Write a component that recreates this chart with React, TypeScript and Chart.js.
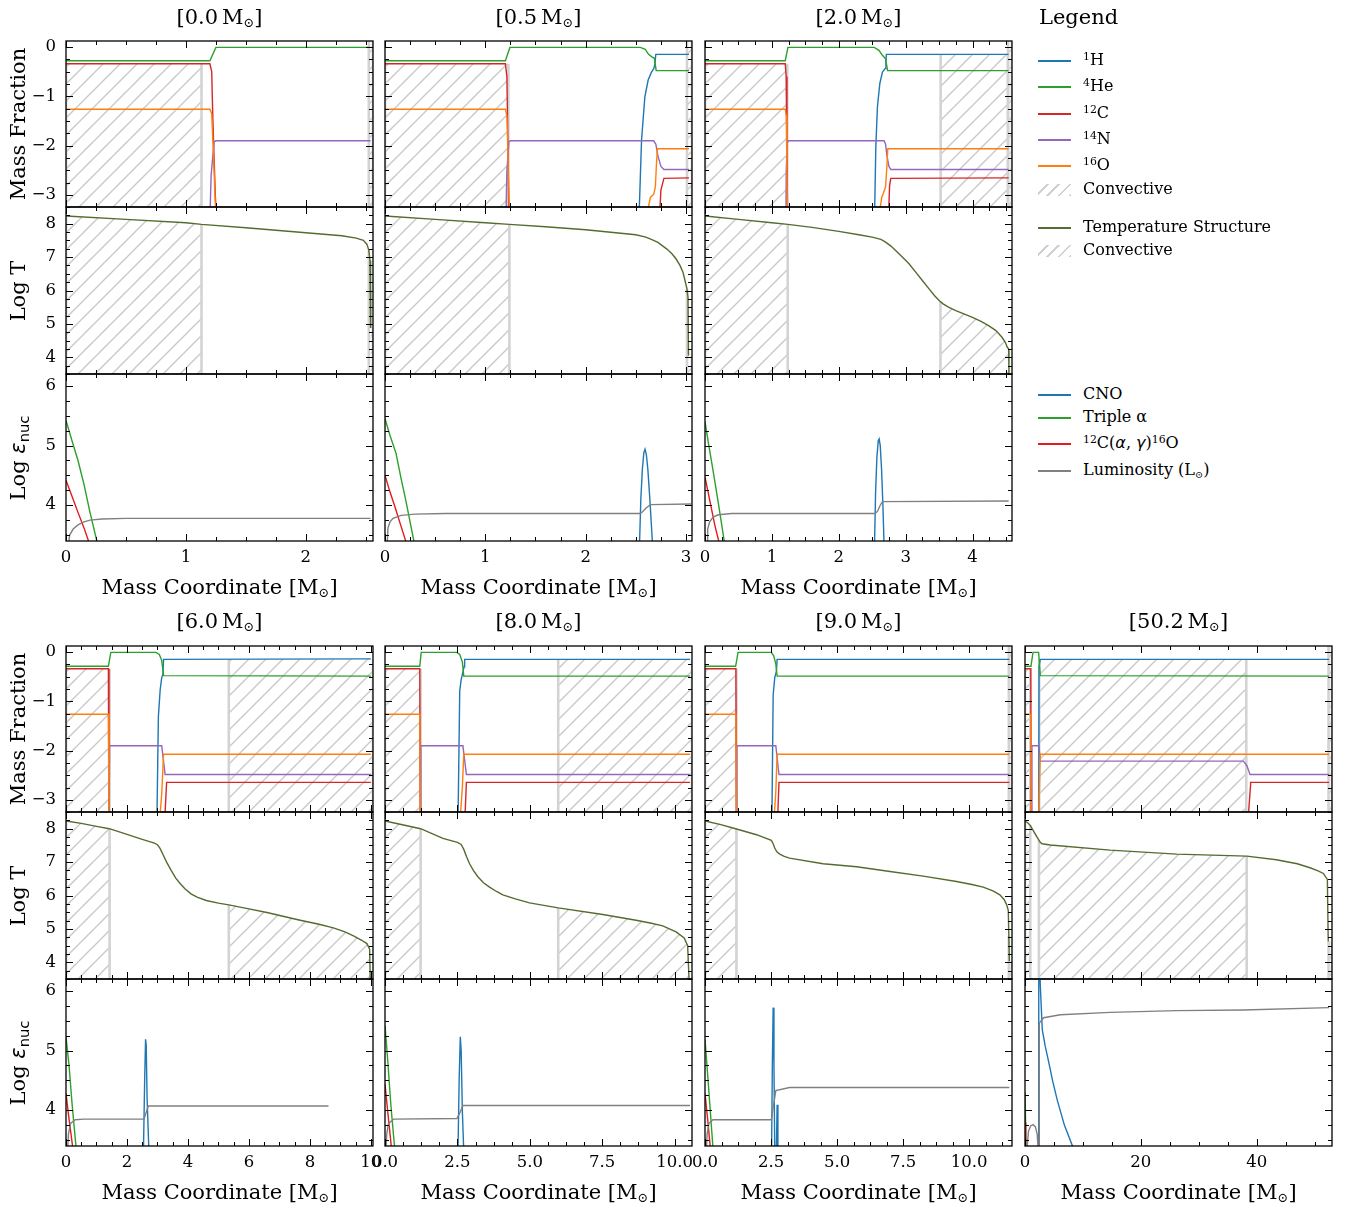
import React, { useEffect, useRef } from "react";
import { Chart, registerables } from "chart.js";

Chart.register(...registerables);

type Pt = [number, number];
type Zone = [number, number, number]; // x0, x1, top (mass-fraction panel)
type TZone = [number, number]; // x0, x1 (temperature panel, filled up to the curve)

// ---------------- axis ranges and ticks ----------------
const MF_MIN = -3.24;
const MF_MAX = 0.12;
const MF_TICKS = [-3, -2, -1, 0];
const T_MIN = 3.5;
const T_MAX = 8.5;
const T_TICKS = [4, 5, 6, 7, 8];
const E_MIN = 3.4;
const E_MAX = 6.2;
const E_TICKS = [4, 5, 6];
const Y_MINOR = 0.25;

const STAR_MASSES = ["0.0", "0.5", "2.0", "6.0", "8.0", "9.0", "50.2"];
const X_MAX = [2.56, 3.06, 4.59, 10.07, 10.6, 11.62, 53.0];
const X_TICKS = [
  [0, 1, 2],
  [0, 1, 2, 3],
  [0, 1, 2, 3, 4],
  [0, 2, 4, 6, 8, 10],
  [0, 2.5, 5, 7.5, 10],
  [0, 2.5, 5, 7.5, 10],
  [0, 20, 40],
];
const X_DEC = [0, 0, 0, 0, 1, 1, 0];

// ---------------- [0.0 Msun] ----------------
const m00_H: Pt[] = [];
const m00_He: Pt[] = [[0, -0.28], [1.2, -0.28], [1.25, -0.01], [2.54, -0.01]];
const m00_C: Pt[] = [[0, -0.34], [1.2, -0.34], [1.215, -0.5], [1.225, -1.5], [1.245, -3.0], [1.255, -3.5]];
const m00_N: Pt[] = [[1.2, -3.5], [1.21, -2.6], [1.235, -1.92], [1.25, -1.9], [2.54, -1.9]];
const m00_O: Pt[] = [[0, -1.26], [1.2, -1.26], [1.215, -1.35], [1.23, -2.2], [1.25, -3.5]];
const m00_mfConv: Zone[] = [[0, 1.13, -0.34], [2.525, 2.56, 0.12]];
const m00_T: Pt[] = [[0, 8.23], [0.5, 8.13], [1.0, 8.03], [1.13, 7.98], [1.5, 7.88], [2.0, 7.73], [2.3, 7.64], [2.42, 7.57], [2.48, 7.5], [2.51, 7.38], [2.525, 7.2], [2.535, 6.9], [2.54, 6.0], [2.54, 4.88]];
const m00_tConv: TZone[] = [[0, 1.13], [2.525, 2.56]];
const m00_CNO: Pt[] = [];
const m00_TA: Pt[] = [[0, 5.42], [0.05, 5.08], [0.1, 4.75], [0.15, 4.35], [0.2, 3.88], [0.257, 3.4], [0.27, 3.3]];
const m00_CAG: Pt[] = [[0, 4.42], [0.05, 4.15], [0.1, 3.88], [0.15, 3.62], [0.2, 3.33]];
const m00_L: Pt[] = [[0.02, 3.3], [0.03, 3.5], [0.06, 3.6], [0.1, 3.67], [0.15, 3.72], [0.2, 3.75], [0.3, 3.77], [0.5, 3.78], [2.54, 3.78]];

// ---------------- [0.5 Msun] ----------------
const m05_H: Pt[] = [[2.531, -3.5], [2.557, -1.89], [2.59, -1.01], [2.623, -0.67], [2.656, -0.51], [2.679, -0.44], [2.69, -0.35], [2.699, -0.15], [3.03, -0.15]];
const m05_He: Pt[] = [[0, -0.28], [1.2, -0.28], [1.245, -0.01], [2.545, -0.01], [2.594, -0.05], [2.627, -0.15], [2.66, -0.2], [2.685, -0.23], [2.703, -0.48], [3.03, -0.48]];
const m05_C: Pt[] = [[0, -0.34], [1.2, -0.34], [1.215, -0.6], [1.225, -2.0], [1.235, -3.5], [2.735, -3.5], [2.75, -2.9], [2.78, -2.66], [3.03, -2.65]];
const m05_N: Pt[] = [[1.205, -3.5], [1.215, -2.5], [1.235, -1.92], [1.25, -1.9], [2.678, -1.9], [2.7, -1.97], [2.72, -2.2], [2.75, -2.42], [2.78, -2.48], [3.03, -2.48]];
const m05_O: Pt[] = [[0, -1.26], [1.2, -1.26], [1.215, -1.4], [1.23, -2.5], [1.24, -3.5], [2.6, -3.5], [2.646, -3.04], [2.679, -2.98], [2.695, -2.83], [2.705, -2.4], [2.715, -2.06], [3.03, -2.06]];
const m05_mfConv: Zone[] = [[0, 1.23, -0.34], [3.01, 3.06, 0.12]];
const m05_T: Pt[] = [[0, 8.23], [0.5, 8.13], [1.0, 8.03], [1.24, 7.98], [1.6, 7.91], [2.0, 7.82], [2.3, 7.73], [2.5, 7.67], [2.6, 7.6], [2.66, 7.52], [2.72, 7.44], [2.76, 7.35], [2.81, 7.24], [2.86, 7.1], [2.9, 6.95], [2.94, 6.75], [2.97, 6.55], [2.99, 6.3], [3.01, 6.05], [3.02, 5.8], [3.025, 4.05]];
const m05_tConv: TZone[] = [[0, 1.24], [3.01, 3.06]];
const m05_CNO: Pt[] = [[2.536, 3.3], [2.55, 4.1], [2.565, 4.6], [2.58, 4.88], [2.592, 4.94], [2.605, 4.85], [2.62, 4.6], [2.64, 4.1], [2.668, 3.3]];
const m05_TA: Pt[] = [[0, 5.45], [0.05, 5.17], [0.11, 4.87], [0.16, 4.45], [0.21, 4.06], [0.29, 3.38], [0.3, 3.3]];
const m05_CAG: Pt[] = [[0, 4.5], [0.05, 4.22], [0.1, 3.97], [0.15, 3.7], [0.21, 3.38], [0.22, 3.3]];
const m05_L: Pt[] = [[0.02, 3.3], [0.03, 3.62], [0.05, 3.72], [0.08, 3.78], [0.16, 3.83], [0.3, 3.85], [0.6, 3.86], [2.536, 3.86], [2.56, 3.88], [2.6, 3.95], [2.645, 4.01], [3.05, 4.02]];

// ---------------- [2.0 Msun] ----------------
const m20_H: Pt[] = [[2.534, -3.5], [2.554, -2.02], [2.578, -1.21], [2.614, -0.74], [2.653, -0.51], [2.693, -0.44], [2.705, -0.3], [2.712, -0.15], [4.54, -0.15]];
const m20_He: Pt[] = [[0, -0.28], [1.2, -0.28], [1.24, -0.01], [2.53, -0.01], [2.6, -0.07], [2.653, -0.17], [2.7, -0.24], [2.73, -0.48], [4.54, -0.48]];
const m20_C: Pt[] = [[0, -0.34], [1.2, -0.34], [1.213, -0.6], [1.225, -2.0], [1.235, -3.5], [2.742, -3.5], [2.76, -2.8], [2.778, -2.66], [4.54, -2.65]];
const m20_N: Pt[] = [[1.21, -3.5], [1.215, -2.5], [1.23, -1.92], [1.24, -1.9], [2.678, -1.9], [2.7, -1.97], [2.72, -2.2], [2.75, -2.42], [2.778, -2.48], [4.54, -2.48]];
const m20_O: Pt[] = [[0, -1.26], [1.2, -1.26], [1.215, -1.4], [1.225, -2.5], [1.235, -3.5], [2.593, -3.5], [2.643, -3.04], [2.67, -2.95], [2.7, -2.83], [2.72, -2.4], [2.733, -2.06], [4.54, -2.06]];
const m20_mfConv: Zone[] = [[0, 1.23, -0.34], [3.523, 4.53, -0.15], [4.53, 4.59, 0.12]];
const m20_T: Pt[] = [[0, 8.23], [0.5, 8.13], [1.0, 8.03], [1.24, 7.98], [1.6, 7.89], [2.0, 7.77], [2.3, 7.67], [2.5, 7.6], [2.63, 7.53], [2.7, 7.45], [2.78, 7.33], [2.85, 7.2], [2.95, 7.0], [3.05, 6.8], [3.15, 6.55], [3.25, 6.3], [3.35, 6.05], [3.43, 5.85], [3.5, 5.7], [3.56, 5.6], [3.64, 5.5], [3.75, 5.4], [3.87, 5.3], [3.99, 5.2], [4.12, 5.08], [4.24, 4.95], [4.35, 4.8], [4.44, 4.6], [4.49, 4.45], [4.52, 4.3], [4.54, 4.25], [4.545, 3.45]];
const m20_tConv: TZone[] = [[0, 1.237], [3.52, 4.59]];
const m20_CNO: Pt[] = [[2.534, 3.3], [2.55, 4.2], [2.57, 4.8], [2.59, 5.08], [2.604, 5.11], [2.62, 5.0], [2.64, 4.6], [2.66, 4.0], [2.678, 3.3]];
const m20_TA: Pt[] = [[0, 5.4], [0.05, 5.05], [0.1, 4.72], [0.15, 4.38], [0.2, 4.03], [0.29, 3.38], [0.3, 3.3]];
const m20_CAG: Pt[] = [[0, 4.47], [0.05, 4.2], [0.1, 3.92], [0.15, 3.65], [0.21, 3.38], [0.22, 3.3]];
const m20_L: Pt[] = [[0.03, 3.3], [0.04, 3.6], [0.07, 3.72], [0.12, 3.8], [0.2, 3.84], [0.4, 3.86], [2.544, 3.86], [2.58, 3.9], [2.62, 4.0], [2.653, 4.06], [4.54, 4.07]];

// ---------------- [6.0 Msun] ----------------
const m60_H: Pt[] = [[2.98, -3.5], [3.03, -1.31], [3.09, -0.76], [3.14, -0.52], [3.18, -0.45], [3.2, -0.15], [10.0, -0.14]];
const m60_He: Pt[] = [[0, -0.29], [1.39, -0.29], [1.47, -0.01], [2.95, -0.01], [3.06, -0.05], [3.14, -0.17], [3.2, -0.48], [10.0, -0.49]];
const m60_C: Pt[] = [[0, -0.34], [1.39, -0.34], [1.41, -3.5], [3.23, -3.5], [3.3, -2.64], [10.0, -2.64]];
const m60_N: Pt[] = [[1.41, -3.5], [1.43, -1.9], [3.14, -1.9], [3.25, -2.48], [10.0, -2.48]];
const m60_O: Pt[] = [[0, -1.26], [1.39, -1.26], [1.41, -3.5], [3.06, -3.5], [3.14, -2.87], [3.2, -2.07], [10.0, -2.07]];
const m60_mfConv: Zone[] = [[0, 1.43, -0.34], [5.34, 10.07, -0.15]];
const m60_T: Pt[] = [[0, 8.23], [0.5, 8.16], [1.0, 8.07], [1.42, 8.0], [2.0, 7.83], [2.5, 7.68], [2.9, 7.57], [3.0, 7.52], [3.08, 7.42], [3.17, 7.25], [3.3, 7.0], [3.45, 6.75], [3.6, 6.52], [3.75, 6.35], [3.9, 6.2], [4.1, 6.05], [4.3, 5.95], [4.6, 5.85], [5.0, 5.77], [5.34, 5.72], [6.0, 5.6], [6.59, 5.49], [7.68, 5.26], [8.3, 5.14], [8.77, 5.03], [9.15, 4.91], [9.43, 4.79], [9.7, 4.66], [9.87, 4.56], [9.96, 4.39], [9.98, 3.45]];
const m60_tConv: TZone[] = [[0, 1.43], [5.34, 10.07]];
const m60_CNO: Pt[] = [[2.54, 3.3], [2.58, 4.5], [2.61, 5.19], [2.63, 5.1], [2.66, 4.2], [2.72, 3.3]];
const m60_TA: Pt[] = [[0, 5.23], [0.1, 4.75], [0.2, 4.1], [0.33, 3.38], [0.34, 3.3]];
const m60_CAG: Pt[] = [[0, 4.28], [0.1, 3.85], [0.22, 3.38], [0.23, 3.3]];
const m60_L: Pt[] = [[0.05, 3.3], [0.08, 3.6], [0.15, 3.78], [0.3, 3.84], [0.6, 3.85], [2.56, 3.85], [2.62, 3.95], [2.7, 4.07], [8.61, 4.07]];

// ---------------- [8.0 Msun] ----------------
const m80_H: Pt[] = [[2.52, -3.5], [2.58, -0.79], [2.63, -0.56], [2.69, -0.41], [2.73, -0.3], [2.75, -0.15], [10.53, -0.15]];
const m80_He: Pt[] = [[0, -0.29], [1.2, -0.29], [1.25, -0.01], [2.48, -0.01], [2.58, -0.05], [2.67, -0.2], [2.72, -0.49], [10.53, -0.49]];
const m80_C: Pt[] = [[0, -0.34], [1.2, -0.34], [1.22, -3.5], [2.75, -3.5], [2.81, -2.64], [10.53, -2.64]];
const m80_N: Pt[] = [[1.22, -3.5], [1.24, -1.9], [2.69, -1.9], [2.81, -2.48], [10.53, -2.48]];
const m80_O: Pt[] = [[0, -1.26], [1.2, -1.26], [1.22, -3.5], [2.58, -3.5], [2.67, -2.75], [2.72, -2.07], [10.53, -2.07]];
const m80_mfConv: Zone[] = [[0, 1.23, -0.34], [5.98, 10.6, -0.15]];
const m80_T: Pt[] = [[0, 8.23], [0.6, 8.12], [1.23, 8.0], [2.0, 7.71], [2.5, 7.59], [2.63, 7.53], [2.72, 7.38], [2.82, 7.15], [2.92, 6.95], [3.05, 6.75], [3.2, 6.57], [3.4, 6.38], [3.61, 6.25], [3.85, 6.12], [4.07, 6.02], [4.5, 5.9], [4.99, 5.78], [5.98, 5.63], [7.52, 5.43], [8.67, 5.26], [9.2, 5.17], [9.59, 5.09], [10.05, 4.91], [10.33, 4.73], [10.45, 4.5], [10.5, 3.45]];
const m80_tConv: TZone[] = [[0, 1.23], [5.98, 10.6]];
const m80_CNO: Pt[] = [[2.52, 3.3], [2.56, 4.5], [2.6, 5.23], [2.63, 5.0], [2.67, 4.0], [2.72, 3.3]];
const m80_TA: Pt[] = [[0, 5.42], [0.1, 4.8], [0.2, 4.1], [0.33, 3.38], [0.34, 3.3]];
const m80_CAG: Pt[] = [[0, 4.44], [0.1, 3.95], [0.22, 3.38], [0.23, 3.3]];
const m80_L: Pt[] = [[0.03, 3.3], [0.06, 3.6], [0.12, 3.78], [0.3, 3.85], [2.48, 3.86], [2.58, 3.95], [2.69, 4.08], [10.53, 4.08]];

// ---------------- [9.0 Msun] ----------------
const m90_H: Pt[] = [[2.53, -3.5], [2.58, -0.87], [2.64, -0.52], [2.7, -0.4], [2.73, -0.15], [11.52, -0.15]];
const m90_He: Pt[] = [[0, -0.29], [1.16, -0.29], [1.25, -0.01], [2.51, -0.01], [2.6, -0.08], [2.68, -0.24], [2.73, -0.49], [11.52, -0.49]];
const m90_C: Pt[] = [[0, -0.34], [1.17, -0.34], [1.19, -3.5], [2.74, -3.5], [2.8, -2.64], [11.52, -2.64]];
const m90_N: Pt[] = [[1.19, -3.5], [1.21, -1.9], [2.68, -1.9], [2.8, -2.48], [11.52, -2.48]];
const m90_O: Pt[] = [[0, -1.26], [1.17, -1.26], [1.19, -3.5], [2.6, -3.5], [2.68, -2.83], [2.73, -2.07], [11.52, -2.07]];
const m90_mfConv: Zone[] = [[0, 1.19, -0.34], [11.5, 11.62, 0.12]];
const m90_T: Pt[] = [[0, 8.23], [0.6, 8.12], [1.16, 8.0], [1.95, 7.82], [2.51, 7.65], [2.58, 7.55], [2.64, 7.42], [2.72, 7.31], [2.83, 7.24], [3.0, 7.17], [3.2, 7.12], [4.47, 6.95], [5.74, 6.86], [7.0, 6.72], [8.26, 6.58], [9.52, 6.42], [10.1, 6.33], [10.53, 6.25], [10.9, 6.14], [11.16, 6.02], [11.32, 5.88], [11.42, 5.72], [11.48, 5.55], [11.52, 4.03]];
const m90_tConv: TZone[] = [[0, 1.19], [11.5, 11.62]];
const m90_CNO: Pt[] = [[2.52, 3.3], [2.55, 4.8], [2.58, 5.72], [2.61, 4.8], [2.64, 3.3], [2.7, 3.3], [2.73, 4.09], [2.76, 3.3], [2.8, 3.3]];
const m90_TA: Pt[] = [[0, 5.19], [0.1, 4.6], [0.3, 3.38], [0.31, 3.3]];
const m90_CAG: Pt[] = [[0, 4.28], [0.1, 3.85], [0.2, 3.38], [0.21, 3.3]];
const m90_L: Pt[] = [[0.05, 3.3], [0.08, 3.6], [0.15, 3.78], [0.3, 3.84], [2.51, 3.84], [2.6, 4.1], [2.68, 4.33], [3.2, 4.38], [11.52, 4.38]];

// ---------------- [50.2 Msun] ----------------
const m502_H: Pt[] = [[2.38, -3.5], [2.42, -0.3], [2.64, -0.15], [52.5, -0.15]];
const m502_He: Pt[] = [[0, -0.29], [1.03, -0.29], [1.38, -0.01], [2.35, -0.01], [2.64, -0.48], [52.5, -0.49]];
const m502_C: Pt[] = [[0, -0.34], [1.0, -0.34], [1.05, -3.5], [38.45, -3.5], [38.97, -2.64], [52.5, -2.64]];
const m502_N: Pt[] = [[1.15, -3.5], [1.2, -1.9], [2.4, -1.9], [2.64, -2.21], [37.7, -2.21], [38.3, -2.3], [38.85, -2.48], [52.5, -2.48]];
const m502_O: Pt[] = [[0, -1.26], [1.0, -1.26], [1.05, -3.5], [2.35, -3.5], [2.64, -2.07], [52.5, -2.07]];
const m502_mfConv: Zone[] = [[0, 0.91, -0.34], [2.45, 38.2, -0.15], [52.4, 53.0, 0.12]];
const m502_T: Pt[] = [[0, 8.23], [0.5, 8.17], [0.91, 8.1], [1.5, 7.92], [2.0, 7.77], [2.35, 7.67], [2.6, 7.6], [2.93, 7.55], [4.36, 7.51], [14.7, 7.36], [26.2, 7.24], [38.3, 7.18], [43.4, 7.07], [47.0, 6.95], [49.2, 6.83], [50.6, 6.74], [51.5, 6.66], [52.2, 6.48], [52.35, 4.62]];
const m502_tConv: TZone[] = [[0, 0.91], [2.4, 38.27], [52.4, 53.0]];
const m502_CNO: Pt[] = [[2.3, 3.3], [2.35, 5.5], [2.4, 6.6], [2.5, 6.6], [2.64, 6.1], [2.98, 5.35], [3.5, 5.07], [4.02, 4.84], [4.8, 4.48], [5.57, 4.17], [6.8, 3.75], [8.16, 3.41], [8.25, 3.3]];
const m502_TA: Pt[] = [[0, 4.3], [0.2, 3.3]];
const m502_CAG: Pt[] = [[0, 3.8], [0.12, 3.3]];
const m502_L: Pt[] = [[0.3, 3.3], [0.6, 3.65], [1.0, 3.74], [1.4, 3.76], [1.8, 3.72], [2.1, 3.6], [2.3, 3.3], [2.45, 3.3], [2.47, 5.46], [3.22, 5.55], [6.1, 5.6], [14.7, 5.64], [26.2, 5.67], [37.7, 5.68], [52.5, 5.72]];

// ---------------- styling ----------------
const COLORS = {
  H: "#1f77b4",
  He: "#2ca02c",
  C: "#d62728",
  N: "#9467bd",
  O: "#ff7f0e",
  T: "#556b2f",
  CNO: "#1f77b4",
  TA: "#2ca02c",
  CAG: "#e41a1c",
  L: "#808080",
};
const HATCH_EDGE = "#d3d3d3";
const HATCH_LINE = "#c9c9c9";
const SERIF = '"DejaVu Serif", serif';
const SANS = '"DejaVu Sans", sans-serif';
const TICK_SIZE = 16.5;
const LABEL_SIZE = 21;
const TITLE_SIZE = 21;
const LEGEND_SIZE = 16;

interface Star {
  mass: string; xMax: number; xTicks: number[]; xDec: number;
  H: Pt[]; He: Pt[]; C: Pt[]; N: Pt[]; O: Pt[]; mfConv: Zone[];
  T: Pt[]; tConv: TZone[];
  CNO: Pt[]; TA: Pt[]; CAG: Pt[]; L: Pt[];
}

const STARS: Star[] = [
  { mass: STAR_MASSES[0], xMax: X_MAX[0], xTicks: X_TICKS[0], xDec: X_DEC[0], H: m00_H, He: m00_He, C: m00_C, N: m00_N, O: m00_O, mfConv: m00_mfConv, T: m00_T, tConv: m00_tConv, CNO: m00_CNO, TA: m00_TA, CAG: m00_CAG, L: m00_L },
  { mass: STAR_MASSES[1], xMax: X_MAX[1], xTicks: X_TICKS[1], xDec: X_DEC[1], H: m05_H, He: m05_He, C: m05_C, N: m05_N, O: m05_O, mfConv: m05_mfConv, T: m05_T, tConv: m05_tConv, CNO: m05_CNO, TA: m05_TA, CAG: m05_CAG, L: m05_L },
  { mass: STAR_MASSES[2], xMax: X_MAX[2], xTicks: X_TICKS[2], xDec: X_DEC[2], H: m20_H, He: m20_He, C: m20_C, N: m20_N, O: m20_O, mfConv: m20_mfConv, T: m20_T, tConv: m20_tConv, CNO: m20_CNO, TA: m20_TA, CAG: m20_CAG, L: m20_L },
  { mass: STAR_MASSES[3], xMax: X_MAX[3], xTicks: X_TICKS[3], xDec: X_DEC[3], H: m60_H, He: m60_He, C: m60_C, N: m60_N, O: m60_O, mfConv: m60_mfConv, T: m60_T, tConv: m60_tConv, CNO: m60_CNO, TA: m60_TA, CAG: m60_CAG, L: m60_L },
  { mass: STAR_MASSES[4], xMax: X_MAX[4], xTicks: X_TICKS[4], xDec: X_DEC[4], H: m80_H, He: m80_He, C: m80_C, N: m80_N, O: m80_O, mfConv: m80_mfConv, T: m80_T, tConv: m80_tConv, CNO: m80_CNO, TA: m80_TA, CAG: m80_CAG, L: m80_L },
  { mass: STAR_MASSES[5], xMax: X_MAX[5], xTicks: X_TICKS[5], xDec: X_DEC[5], H: m90_H, He: m90_He, C: m90_C, N: m90_N, O: m90_O, mfConv: m90_mfConv, T: m90_T, tConv: m90_tConv, CNO: m90_CNO, TA: m90_TA, CAG: m90_CAG, L: m90_L },
  { mass: STAR_MASSES[6], xMax: X_MAX[6], xTicks: X_TICKS[6], xDec: X_DEC[6], H: m502_H, He: m502_He, C: m502_C, N: m502_N, O: m502_O, mfConv: m502_mfConv, T: m502_T, tConv: m502_tConv, CNO: m502_CNO, TA: m502_TA, CAG: m502_CAG, L: m502_L },
];

// ---------------- layout ----------------
const COL_LEFT = [66, 385, 705, 1025];
const PLOT_W = 307;
const ROW_EDGES = [
  [41, 207, 374, 541],
  [646, 812, 979, 1146],
];
const ML = 50;
const MR = 26;
const MT = 26;
const MB = 42;

function starPos(si: number) {
  return si < 3 ? { row: 0, col: si } : { row: 1, col: si - 3 };
}

let patternCache: CanvasPattern | null = null;
function getPattern(): CanvasPattern {
  if (patternCache) return patternCache;
  const s = 17;
  const c = document.createElement("canvas");
  c.width = s;
  c.height = s;
  const g = c.getContext("2d")!;
  g.strokeStyle = HATCH_LINE;
  g.lineWidth = 1.4;
  g.beginPath();
  for (let k = -1; k <= 1; k++) {
    g.moveTo(k * s - 1, s + 1);
    g.lineTo(k * s + s + 1, -1);
  }
  g.stroke();
  patternCache = g.createPattern(c, "repeat")!;
  return patternCache;
}

function fmt(v: number, d: number) {
  return v.toFixed(d).replace("-", "\u2212");
}

function interp(pts: Pt[], x: number): number {
  if (x <= pts[0][0]) return pts[0][1];
  const last = pts[pts.length - 1];
  if (x >= last[0]) return last[1];
  for (let i = 0; i < pts.length - 1; i++) {
    const a = pts[i], b = pts[i + 1];
    if (a[0] <= x && x <= b[0] && b[0] > a[0]) return a[1] + ((b[1] - a[1]) * (x - a[0])) / (b[0] - a[0]);
  }
  return last[1];
}

function underCurve(pts: Pt[], x0: number, x1: number, base: number): Pt[] {
  const out: Pt[] = [[x0, base], [x0, interp(pts, x0)]];
  for (const p of pts) if (p[0] > x0 && p[0] < x1) out.push(p);
  out.push([x1, interp(pts, x1)], [x1, base]);
  return out;
}

function lineDs(pts: Pt[], color: string, order: number) {
  return {
    data: pts.map(([x, y]) => ({ x, y })),
    borderColor: color,
    borderWidth: 1.4,
    pointRadius: 0,
    tension: 0,
    fill: false,
    order,
  };
}

function hatchDs(pts: Pt[], pattern: CanvasPattern) {
  return {
    data: pts.map(([x, y]) => ({ x, y })),
    borderColor: HATCH_EDGE,
    borderWidth: 2.6,
    backgroundColor: pattern,
    fill: "start",
    pointRadius: 0,
    tension: 0,
    order: 20,
    segment: {
      borderColor: (c: any) => (c.p0.parsed.x === c.p1.parsed.x ? HATCH_EDGE : "rgba(0,0,0,0)"),
    },
  };
}

function minorValues(min: number, max: number, step: number, majors: number[]) {
  const out: number[] = [];
  const k0 = Math.ceil(min / step - 1e-9);
  const k1 = Math.floor(max / step + 1e-9);
  for (let k = k0; k <= k1; k++) {
    const v = k * step;
    if (!majors.some((m) => Math.abs(m - v) < step * 1e-3)) out.push(v);
  }
  return out;
}

const frameTicks = {
  id: "frameTicks",
  afterDatasetsDraw(chart: any, _args: any, opts: any) {
    const { ctx, chartArea: a, scales } = chart;
    const xs = scales.x, ys = scales.y;
    ctx.save();
    ctx.strokeStyle = "#000";
    ctx.lineWidth = 1;
    ctx.beginPath();
    const tx = (v: number, len: number) => {
      const p = Math.round(xs.getPixelForValue(v)) + 0.5;
      ctx.moveTo(p, a.bottom);
      ctx.lineTo(p, a.bottom - len);
      ctx.moveTo(p, a.top);
      ctx.lineTo(p, a.top + len);
    };
    const ty = (v: number, len: number) => {
      const p = Math.round(ys.getPixelForValue(v)) + 0.5;
      ctx.moveTo(a.left, p);
      ctx.lineTo(a.left + len, p);
      ctx.moveTo(a.right, p);
      ctx.lineTo(a.right - len, p);
    };
    opts.xMajor.forEach((v: number) => tx(v, 7));
    minorValues(xs.min, xs.max, opts.xMinor, opts.xMajor).forEach((v) => tx(v, 4));
    opts.yMajor.forEach((v: number) => ty(v, 7));
    minorValues(ys.min, ys.max, opts.yMinor, opts.yMajor).forEach((v) => ty(v, 4));
    ctx.stroke();
    ctx.lineWidth = 1.3;
    ctx.strokeRect(a.left, a.top, a.right - a.left, a.bottom - a.top);
    ctx.restore();
  },
};

function makeConfig(s: Star, kind: number, yLab: boolean, xLab: boolean): any {
  const pat = getPattern();
  const ds: any[] = [];
  let yMin = MF_MIN, yMax = MF_MAX, yTicks = MF_TICKS;
  if (kind === 0) {
    for (const [x0, x1, top] of s.mfConv) ds.push(hatchDs([[x0, MF_MIN], [x0, top], [x1, top], [x1, MF_MIN]], pat));
    ds.push(lineDs(s.H, COLORS.H, 5), lineDs(s.He, COLORS.He, 4), lineDs(s.C, COLORS.C, 3), lineDs(s.N, COLORS.N, 2), lineDs(s.O, COLORS.O, 1));
  } else if (kind === 1) {
    yMin = T_MIN; yMax = T_MAX; yTicks = T_TICKS;
    for (const [x0, x1] of s.tConv) ds.push(hatchDs(underCurve(s.T, x0, x1, T_MIN), pat));
    ds.push(lineDs(s.T, COLORS.T, 1));
  } else {
    yMin = E_MIN; yMax = E_MAX; yTicks = E_TICKS;
    ds.push(lineDs(s.CNO, COLORS.CNO, 4), lineDs(s.TA, COLORS.TA, 3), lineDs(s.CAG, COLORS.CAG, 2), lineDs(s.L, COLORS.L, 1));
  }
  const tickFont = { family: SERIF, size: TICK_SIZE };
  const xMinor = (s.xTicks[1] - s.xTicks[0]) / 4;
  return {
    type: "line",
    data: { datasets: ds },
    options: {
      animation: false,
      responsive: false,
      devicePixelRatio: 1,
      events: [],
      layout: { padding: { top: MT, right: MR, left: 0, bottom: 0 } },
      plugins: {
        legend: { display: false },
        tooltip: { enabled: false },
        frameTicks: { xMajor: s.xTicks, xMinor, yMajor: yTicks, yMinor: Y_MINOR },
      },
      scales: {
        x: {
          type: "linear",
          min: 0,
          max: s.xMax,
          grid: { display: false, drawTicks: false },
          border: { display: false },
          afterBuildTicks: (sc: any) => {
            sc.ticks = s.xTicks.map((v) => ({ value: v }));
          },
          afterFit: (sc: any) => {
            sc.height = MB;
            sc.paddingLeft = 0;
            sc.paddingRight = 0;
          },
          ticks: {
            display: xLab,
            color: "#000",
            font: tickFont,
            padding: 7,
            maxRotation: 0,
            minRotation: 0,
            autoSkip: false,
            callback: (v: number) => fmt(v, s.xDec),
          },
        },
        y: {
          type: "linear",
          min: yMin,
          max: yMax,
          grid: { display: false, drawTicks: false },
          border: { display: false },
          afterBuildTicks: (sc: any) => {
            sc.ticks = yTicks.map((v) => ({ value: v }));
          },
          afterFit: (sc: any) => {
            sc.width = ML;
            sc.paddingTop = 0;
            sc.paddingBottom = 0;
          },
          ticks: {
            display: yLab,
            color: "#000",
            font: tickFont,
            padding: 10,
            autoSkip: false,
            callback: (v: number) => fmt(v, 0),
          },
        },
      },
    },
    plugins: [frameTicks],
  };
}

function Subplot({ si, kind }: { si: number; kind: number }) {
  const ref = useRef<HTMLCanvasElement>(null);
  const { row, col } = starPos(si);
  const left = COL_LEFT[col];
  const top = ROW_EDGES[row][kind];
  const h = ROW_EDGES[row][kind + 1] - top;
  const cw = PLOT_W + ML + MR;
  const ch = h + MT + MB;
  useEffect(() => {
    const chart = new Chart(ref.current as HTMLCanvasElement, makeConfig(STARS[si], kind, col === 0, kind === 2));
    return () => chart.destroy();
  }, [si, kind]);
  return (
    <canvas
      ref={ref}
      width={cw}
      height={ch}
      style={{ position: "absolute", left: left - ML, top: top - MT, width: cw, height: ch }}
    />
  );
}

function Txt(props: { x: number; y: number; size: number; rotate?: boolean; left?: boolean; family?: string; children: any }) {
  const { x, y, size, rotate, left, family, children } = props;
  return (
    <div
      style={{
        position: "absolute",
        left: x,
        top: y,
        transform: `translate(${left ? "0" : "-50%"}, -50%)${rotate ? " rotate(-90deg)" : ""}`,
        fontSize: size,
        lineHeight: 1,
        whiteSpace: "nowrap",
        fontFamily: family || SERIF,
        color: "#000",
      }}
    >
      {children}
    </div>
  );
}

const SUB: any = { fontSize: "0.62em", verticalAlign: "-0.28em", lineHeight: 0 };
const SUP: any = { fontSize: "0.68em", verticalAlign: "0.5em", lineHeight: 0 };

const Msun = () => (
  <span>
    M<span style={SUB}>⊙</span>
  </span>
);

const LEG_X = 1038;
const LEG_W = 33;
const LEG_TEXT_X = 1083;
const LEGEND_ITEMS: { y: number; color?: string; hatch?: boolean; label: any }[] = [
  { y: 61, color: COLORS.H, label: <><span style={SUP}>1</span>H</> },
  { y: 87, color: COLORS.He, label: <><span style={SUP}>4</span>He</> },
  { y: 114, color: COLORS.C, label: <><span style={SUP}>12</span>C</> },
  { y: 140, color: COLORS.N, label: <><span style={SUP}>14</span>N</> },
  { y: 166, color: COLORS.O, label: <><span style={SUP}>16</span>O</> },
  { y: 190, hatch: true, label: <>Convective</> },
  { y: 228, color: COLORS.T, label: <>Temperature Structure</> },
  { y: 251, hatch: true, label: <>Convective</> },
  { y: 395, color: COLORS.CNO, label: <>CNO</> },
  { y: 418, color: COLORS.TA, label: <>Triple α</> },
  { y: 444, color: COLORS.CAG, label: <><span style={SUP}>12</span>C(<i style={{ fontFamily: SANS }}>α</i>, <i style={{ fontFamily: SANS }}>γ</i>)<span style={SUP}>16</span>O</> },
  { y: 471, color: COLORS.L, label: <>Luminosity (L<span style={SUB}>⊙</span>)</> },
];

export default function App() {
  const plots: any[] = [];
  STARS.forEach((_, si) => {
    for (let k = 0; k < 3; k++) plots.push(<Subplot key={`${si}-${k}`} si={si} kind={k} />);
  });
  const texts: any[] = [];
  STARS.forEach((s, si) => {
    const { row, col } = starPos(si);
    const cx = COL_LEFT[col] + PLOT_W / 2;
    const titleY = row === 0 ? 17 : 621;
    const xlabY = row === 0 ? 587 : 1192;
    texts.push(
      <Txt key={`t${si}`} x={cx} y={titleY} size={TITLE_SIZE}>
        [{s.mass}
        <span style={{ marginLeft: "0.18em" }} />
        <Msun />]
      </Txt>
    );
    texts.push(
      <Txt key={`x${si}`} x={cx} y={xlabY} size={LABEL_SIZE}>
        Mass Coordinate [<Msun />]
      </Txt>
    );
  });
  [0, 1].forEach((row) => {
    const e = ROW_EDGES[row];
    texts.push(<Txt key={`ym${row}`} x={18} y={(e[0] + e[1]) / 2} size={LABEL_SIZE} rotate>Mass Fraction</Txt>);
    texts.push(<Txt key={`yt${row}`} x={18} y={(e[1] + e[2]) / 2} size={LABEL_SIZE} rotate>Log T</Txt>);
    texts.push(
      <Txt key={`ye${row}`} x={18} y={(e[2] + e[3]) / 2} size={LABEL_SIZE} rotate>
        Log <i style={{ fontFamily: SANS }}>ε</i>
        <span style={{ ...SUB, fontSize: "0.7em", fontFamily: SANS }}>nuc</span>
      </Txt>
    );
  });

  return (
    <div
      style={{
        position: "absolute",
        left: 0,
        top: 0,
        width: 1351,
        height: 1209,
        background: "#fff",
        overflow: "hidden",
        fontFamily: SERIF,
      }}
    >
      {plots}
      {texts}
      <Txt x={1039} y={17} size={TITLE_SIZE} left>
        Legend
      </Txt>
      {LEGEND_ITEMS.map((it, i) => (
        <React.Fragment key={`l${i}`}>
          {it.hatch ? (
            <div
              style={{
                position: "absolute",
                left: LEG_X,
                top: it.y - 6,
                width: LEG_W,
                height: 12,
                background: `repeating-linear-gradient(135deg, rgba(0,0,0,0) 0px, rgba(0,0,0,0) 6px, #d0d0d0 6px, #d0d0d0 8px)`,
              }}
            />
          ) : (
            <div
              style={{
                position: "absolute",
                left: LEG_X,
                top: it.y - 1,
                width: LEG_W,
                height: 2,
                background: it.color,
              }}
            />
          )}
          <Txt x={LEG_TEXT_X} y={it.y - 1} size={LEGEND_SIZE} left>
            {it.label}
          </Txt>
        </React.Fragment>
      ))}
    </div>
  );
}
